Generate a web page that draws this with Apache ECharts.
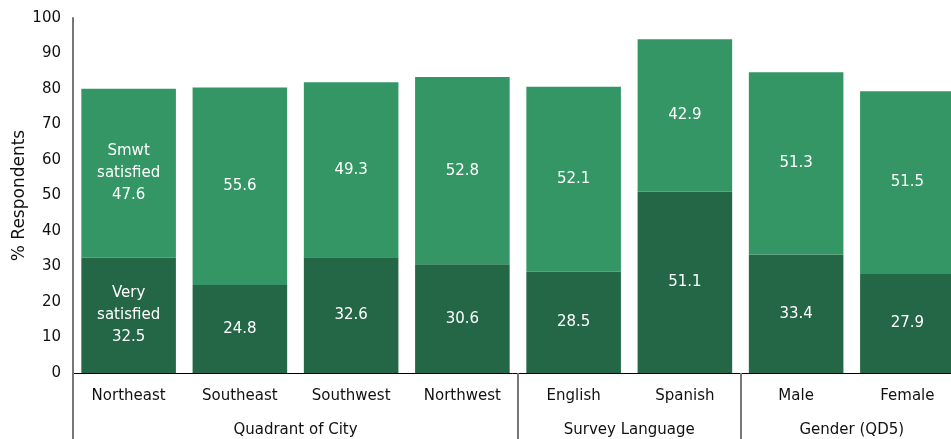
<!DOCTYPE html>
<html><head><meta charset="utf-8">
<script src="https://cdn.jsdelivr.net/npm/echarts@6/dist/echarts.min.js"></script>
<style>html,body{margin:0;padding:0;background:#fff}#c{width:951px;height:439px}</style>
</head><body><div id="c"></div>
<script>
const categories = ['Northeast','Southeast','Southwest','Northwest','English','Spanish','Male','Female'];
const verySatisfied = [32.5, 24.8, 32.6, 30.6, 28.5, 51.1, 33.4, 27.9];
const smwtSatisfied = [47.6, 55.6, 49.3, 52.8, 52.1, 42.9, 51.3, 51.5];
const groupNames = ['Quadrant of City','Survey Language','Gender (QD5)'];
const groupBounds = [0, 4, 6, 8];
const yTicks = [0,10,20,30,40,50,60,70,80,90,100];

const FONT = 'DejaVu Sans';
const groupCenters = groupNames.map((_, i) => (groupBounds[i] + groupBounds[i+1]) / 2);

const chart = echarts.init(document.getElementById('c'), null, {renderer:'canvas'});
chart.setOption({
  animation: false,
  grid: {left: 73, width: 890, top: 18, bottom: 66, containLabel: false, outerBoundsMode: 'none'},
  xAxis: [{
    type: 'category', data: categories, position: 'bottom',
    axisLine: {lineStyle: {color: '#000', width: 1}},
    axisTick: {show: false},
    axisLabel: {color: '#111', fontFamily: FONT, fontSize: 15, margin: 16}
  }, {
    type: 'value', min: 0, max: 8, position: 'bottom',
    axisLine: {show: false},
    splitLine: {show: false},
    axisTick: {show: true, customValues: groupBounds, length: 66, inside: false,
      lineStyle: {color: '#777', width: 2}},
    axisLabel: {customValues: groupCenters, color: '#111', fontFamily: FONT, fontSize: 15, margin: 50,
      formatter: v => groupNames[groupCenters.indexOf(v)] || ''}
  }],
  yAxis: {
    type: 'value', min: 0, max: 100, interval: 10,
    name: '% Respondents', nameLocation: 'middle', nameGap: 45, nameMoveOverlap: false,
    nameTextStyle: {color: '#111', fontFamily: FONT, fontSize: 17},
    axisLine: {show: true, lineStyle: {color: '#777', width: 2}},
    axisTick: {show: false},
    splitLine: {show: false},
    axisLabel: {color: '#111', fontFamily: FONT, fontSize: 15, margin: 12,
      formatter: v => yTicks.includes(v) ? String(v) : ''}
  },
  series: [{
    name: 'Very satisfied', type: 'bar', stack: 's', data: verySatisfied,
    barCategoryGap: '15%',
    itemStyle: {color: '#236746'},
    label: {show: true, position: 'inside', color: '#fff', fontFamily: FONT, fontSize: 15, lineHeight: 22,
      formatter: p => p.dataIndex === 0 ? 'Very\nsatisfied\n' + p.value.toFixed(1) : p.value.toFixed(1)}
  }, {
    name: 'Smwt satisfied', type: 'bar', stack: 's', data: smwtSatisfied,
    barCategoryGap: '15%',
    itemStyle: {color: '#339664'},
    label: {show: true, position: 'inside', color: '#fff', fontFamily: FONT, fontSize: 15, lineHeight: 22,
      formatter: p => p.dataIndex === 0 ? 'Smwt\nsatisfied\n' + p.value.toFixed(1) : p.value.toFixed(1)}
  }]
});
</script></body></html>
